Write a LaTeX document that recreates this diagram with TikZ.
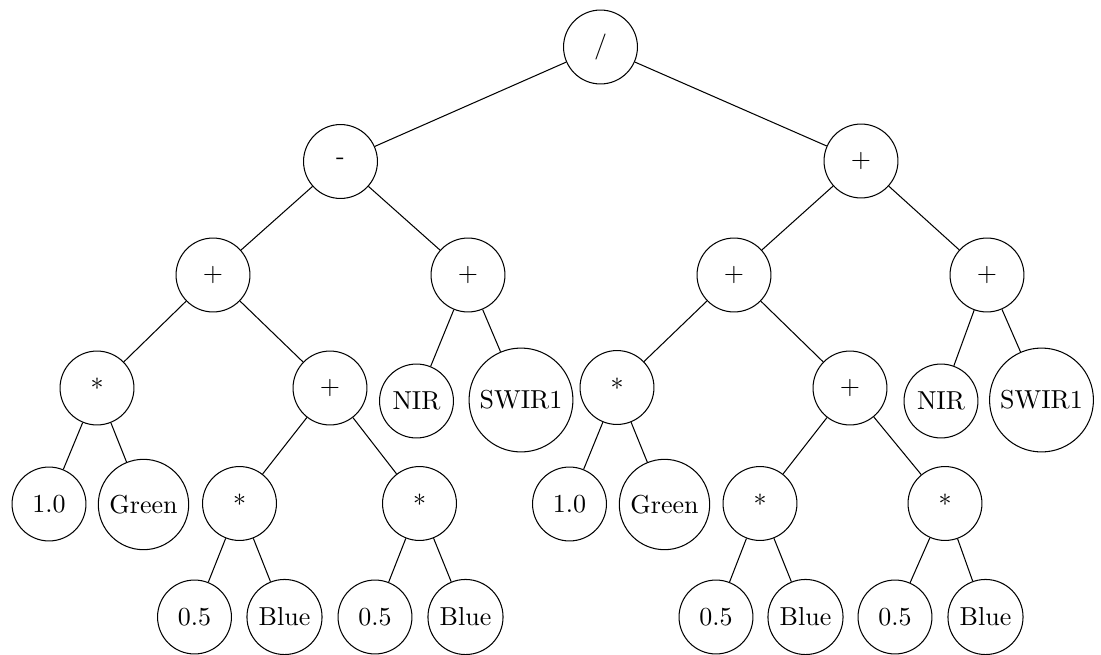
\documentclass[tikz,border=0pt]{standalone}
\begin{document}
\begin{tikzpicture}[x=0.385pt,y=-0.385pt,
  tn/.style={draw,circle,minimum size=1cm,inner sep=3pt},
  edge/.style={draw}]
\useasboundingbox (0,0) rectangle (1101,655);
% level 0
\node[tn] (r) at (600.5,47) {/};
% level 1
\node[tn] (m) at (340.5,161.5) {-};
\node[tn] (p) at (861,161) {+};
% level 2
\node[tn] (lp1) at (213,275) {+};
\node[tn] (lp2) at (468,275) {+};
\node[tn] (rp1) at (734,275) {+};
\node[tn] (rp2) at (987,275) {+};
% level 3
\node[tn] (ls1) at (97,388) {*};
\node[tn] (lp3) at (330,388) {+};
\node[tn] (lnir) at (416.5,401) {NIR};
\node[tn] (lsw) at (521,400) {SWIR1};
\node[tn] (rs1) at (617,387.5) {*};
\node[tn] (rp3) at (850,388) {+};
\node[tn] (rnir) at (941,401) {NIR};
\node[tn] (rsw) at (1041.5,400) {SWIR1};
% level 4
\node[tn] (l10) at (49,504) {1.0};
\node[tn] (lgr) at (143.5,504.5) {Green};
\node[tn] (ls2) at (239.5,503.5) {*};
\node[tn] (ls3) at (419.5,503.5) {*};
\node[tn] (r10) at (569.5,504) {1.0};
\node[tn] (rgr) at (664.5,504.5) {Green};
\node[tn] (rs2) at (760,503.5) {*};
\node[tn] (rs3) at (945,503.5) {*};
% level 5
\node[tn] (a1) at (194.5,617) {0.5};
\node[tn] (b1) at (284.5,617) {Blue};
\node[tn] (a2) at (375,617) {0.5};
\node[tn] (b2) at (465.5,617) {Blue};
\node[tn] (a3) at (716,617) {0.5};
\node[tn] (b3) at (805.5,617) {Blue};
\node[tn] (a4) at (895,617) {0.5};
\node[tn] (b4) at (985.5,617) {Blue};
% edges
\path[edge] (r) -- (m);
\path[edge] (r) -- (p);
\path[edge] (m) -- (lp1);
\path[edge] (m) -- (lp2);
\path[edge] (p) -- (rp1);
\path[edge] (p) -- (rp2);
\path[edge] (lp1) -- (ls1);
\path[edge] (lp1) -- (lp3);
\path[edge] (lp2) -- (lnir);
\path[edge] (lp2) -- (lsw);
\path[edge] (rp1) -- (rs1);
\path[edge] (rp1) -- (rp3);
\path[edge] (rp2) -- (rnir);
\path[edge] (rp2) -- (rsw);
\path[edge] (ls1) -- (l10);
\path[edge] (ls1) -- (lgr);
\path[edge] (lp3) -- (ls2);
\path[edge] (lp3) -- (ls3);
\path[edge] (rs1) -- (r10);
\path[edge] (rs1) -- (rgr);
\path[edge] (rp3) -- (rs2);
\path[edge] (rp3) -- (rs3);
\path[edge] (ls2) -- (a1);
\path[edge] (ls2) -- (b1);
\path[edge] (ls3) -- (a2);
\path[edge] (ls3) -- (b2);
\path[edge] (rs2) -- (a3);
\path[edge] (rs2) -- (b3);
\path[edge] (rs3) -- (a4);
\path[edge] (rs3) -- (b4);
\end{tikzpicture}
\end{document}
